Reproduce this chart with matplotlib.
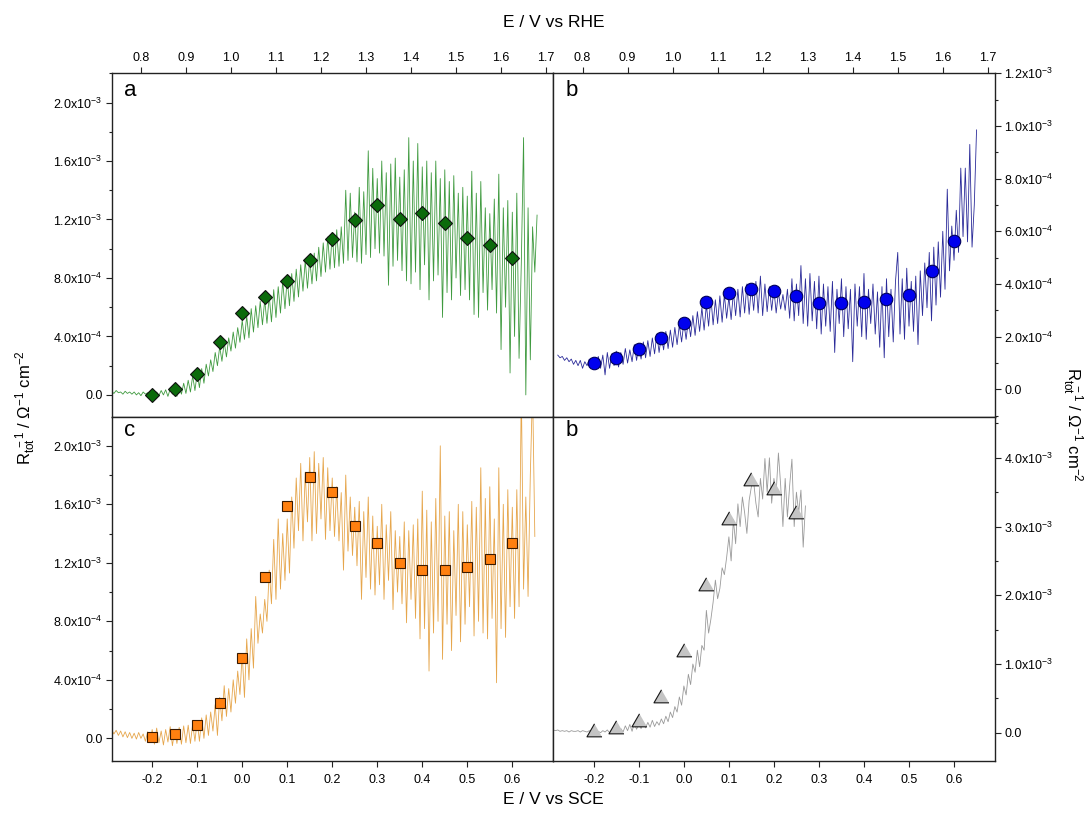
import numpy as np
import matplotlib
matplotlib.use("Agg")
import matplotlib.pyplot as plt
from matplotlib.ticker import MultipleLocator, FuncFormatter, NullLocator

plt.rcParams['font.family'] = ['Liberation Sans', 'DejaVu Sans']
plt.rcParams['mathtext.fontset'] = 'custom'
plt.rcParams['mathtext.rm'] = 'Liberation Sans'
plt.rcParams['mathtext.it'] = 'Liberation Sans:italic'
plt.rcParams['mathtext.bf'] = 'Liberation Sans:bold'

# ---------------- data ----------------
# marker potentials
mark_rhe = [0.825, 0.875, 0.925, 0.975, 1.025, 1.075, 1.125, 1.175, 1.225,
            1.275, 1.325, 1.375, 1.425, 1.475, 1.525, 1.575, 1.625]
mark_sce = [-0.20, -0.15, -0.10, -0.05, 0.00, 0.05, 0.10, 0.15, 0.20,
            0.25, 0.30, 0.35, 0.40, 0.45, 0.50, 0.55, 0.60]
mark_sce_d = [-0.20, -0.15, -0.10, -0.05, 0.00, 0.05, 0.10, 0.15, 0.20, 0.25]

# marker values (Ohm^-1 cm^-2)
a_marks = [0.0, 0.39e-4, 1.45e-4, 3.59e-4, 5.57e-4, 6.68e-4, 7.77e-4, 9.25e-4, 1.066e-3,
           1.198e-3, 1.302e-3, 1.20e-3, 1.243e-3, 1.173e-3, 1.073e-3, 1.023e-3, 0.939e-3]
b_marks = [0.99e-4, 1.18e-4, 1.52e-4, 1.94e-4, 2.53e-4, 3.30e-4, 3.65e-4, 3.80e-4, 3.73e-4,
           3.54e-4, 3.27e-4, 3.27e-4, 3.30e-4, 3.43e-4, 3.58e-4, 4.49e-4, 5.62e-4]
c_marks = [0.11e-4, 0.30e-4, 0.89e-4, 2.41e-4, 5.51e-4, 1.1025e-3, 1.59e-3, 1.786e-3, 1.686e-3,
           1.449e-3, 1.335e-3, 1.196e-3, 1.150e-3, 1.153e-3, 1.171e-3, 1.226e-3, 1.337e-3]
d_marks = [0.015e-3, 0.05e-3, 0.16e-3, 0.50e-3, 1.17e-3, 2.14e-3, 3.09e-3, 3.66e-3, 3.53e-3, 3.18e-3]

# continuous traces, sweep start / step in V
a_start, a_step = 0.735, 0.005   # vs RHE
a_trace_e4 = [
    0.25, 0.10, 0.30, 0.15, 0.20, 0.05, 0.25, 0.10, 0.20, 0.05,
    0.20, 0.00, 0.15, -0.05, 0.20, 0.05, 0.15, -0.05, 0.10, 0.00,
    0.20, -0.05, 0.30, 0.00, 0.35, -0.10, 0.40, 0.05, 0.55, -0.10,
    0.60, 0.05, 0.80, 0.10, 1.00, 0.20, 1.30, 0.30, 1.50, 0.50,
    1.80, 0.80, 2.10, 1.30, 2.40, 1.60, 2.90, 2.00, 3.30, 2.30,
    3.60, 2.60, 3.90, 3.00, 4.30, 3.20, 4.60, 3.60, 5.10, 3.80,
    5.40, 3.90, 5.90, 4.30, 6.10, 4.60, 6.40, 4.80, 6.50, 4.90,
    6.80, 5.00, 7.20, 5.30, 7.40, 5.60, 7.80, 5.90, 8.00, 6.10,
    8.30, 6.40, 8.60, 6.70, 8.90, 7.10, 9.20, 7.30, 9.30, 7.60,
    9.70, 7.80, 10.10, 8.10, 10.40, 8.40, 10.80, 8.60, 11.10, 8.70,
    11.30, 8.80, 11.50, 9.00, 14.00, 9.20, 13.80, 9.40, 12.50, 9.10,
    14.20, 9.00, 13.90, 9.60, 16.70, 9.40, 15.50, 10.00, 14.80, 9.70,
    16.00, 9.50, 15.20, 7.50, 15.80, 8.80, 16.20, 9.20, 14.90, 8.50,
    15.40, 7.80, 17.60, 7.60, 16.00, 8.40, 17.20, 7.20, 15.60, 8.90,
    16.00, 6.50, 15.20, 7.80, 16.00, 8.20, 14.80, 5.30, 15.40, 7.00,
    14.60, 6.50, 15.00, 8.00, 13.80, 6.80, 14.20, 7.20, 13.60, 6.50,
    15.30, 5.50, 13.80, 5.30, 14.60, 7.00, 12.80, 5.80, 12.40, 7.20,
    13.40, 5.60, 15.10, 3.10, 12.80, 6.00, 13.30, 1.50, 12.50, 4.00,
    13.80, 2.50, 9.00, 17.60, 0.00, 12.80, 2.40, 11.50, 8.40, 12.30,
]

b_start, b_step = 0.745, 0.005   # vs RHE
b_trace_e4 = [
    1.30, 1.20, 1.25, 1.10, 1.20, 1.05, 1.15, 0.95, 1.10, 0.90,
    1.10, 0.80, 1.05, 0.90, 1.15, 0.85, 1.10, 0.95, 1.25, 0.80,
    1.30, 0.55, 1.40, 0.80, 1.35, 0.90, 1.45, 0.85, 1.40, 0.95,
    1.55, 1.00, 1.50, 1.05, 1.70, 1.10, 1.65, 1.15, 1.80, 1.20,
    1.85, 1.25, 1.95, 1.35, 2.10, 1.40, 2.05, 1.50, 2.20, 1.55,
    2.25, 1.60, 2.35, 1.70, 2.45, 1.80, 2.55, 1.90, 2.65, 2.00,
    2.80, 2.05, 2.95, 2.20, 3.10, 2.25, 3.20, 2.40, 3.50, 2.45,
    3.40, 2.50, 3.55, 2.55, 3.60, 2.70, 3.50, 2.65, 3.70, 2.80,
    3.80, 2.75, 3.90, 2.90, 4.00, 2.85, 3.95, 3.00, 4.10, 2.90,
    4.30, 2.80, 4.00, 2.95, 3.90, 3.00, 3.80, 2.90, 3.70, 3.05,
    3.60, 3.00, 3.80, 2.70, 4.20, 2.60, 4.00, 2.80, 4.70, 2.50,
    4.20, 2.40, 4.40, 2.60, 4.10, 2.30, 4.30, 2.10, 4.00, 2.40,
    3.90, 2.20, 4.10, 1.40, 3.80, 2.50, 4.20, 2.00, 3.90, 2.30,
    3.80, 1.05, 4.00, 2.40, 3.90, 2.00, 4.40, 1.90, 3.80, 2.50,
    4.00, 2.10, 3.70, 1.60, 3.90, 1.20, 4.20, 2.00, 3.80, 1.80,
    4.10, 5.20, 2.10, 4.20, 1.90, 4.60, 2.40, 4.10, 2.20, 4.30,
    1.70, 4.50, 2.80, 4.80, 3.10, 5.20, 2.60, 5.40, 3.20, 5.60,
    3.50, 6.00, 3.80, 7.60, 4.50, 6.20, 4.90, 6.80, 5.20, 8.40,
    5.80, 8.40, 5.60, 9.30, 5.40, 7.00, 9.85,
]

c_start, c_step = -0.290, 0.005  # vs SCE
c_trace_e4 = [
    0.60, 0.30, 0.55, 0.20, 0.50, 0.10, 0.45, 0.05, 0.40, 0.00,
    0.35, -0.05, 0.40, 0.00, 0.30, -0.20, 0.45, -0.30, 0.60, -0.40,
    0.70, -0.30, 0.50, -0.45, 0.60, -0.25, 0.80, -0.50, 0.55, -0.35,
    0.75, -0.40, 0.85, -0.30, 0.90, -0.35, 1.00, -0.20, 1.20, -0.20,
    1.40, 0.00, 1.60, 0.20, 1.80, 0.50, 2.30, 0.20, 2.80, 1.20,
    3.60, 1.50, 3.40, 1.80, 4.00, 2.40, 4.60, 3.00, 5.80, 2.80,
    6.80, 4.00, 7.50, 4.80, 9.70, 6.50, 8.50, 7.20, 9.50, 8.00,
    11.50, 9.20, 13.60, 9.50, 15.00, 10.20, 14.00, 10.80, 15.00, 11.30,
    16.50, 13.00, 17.80, 14.20, 18.80, 13.50, 18.20, 14.80, 19.20, 13.50,
    19.60, 14.00, 18.80, 15.00, 19.20, 13.60, 18.50, 14.20, 17.80, 13.80,
    17.20, 13.50, 16.80, 11.50, 18.00, 12.80, 16.50, 12.50, 15.80, 11.80,
    16.20, 9.50, 15.50, 11.00, 16.50, 10.20, 15.20, 9.80, 14.50, 10.50,
    16.00, 9.50, 14.60, 10.80, 15.50, 8.80, 14.20, 10.00, 13.80, 9.20,
    14.80, 7.90, 14.20, 9.50, 14.60, 8.20, 15.00, 6.80, 16.90, 7.50,
    15.60, 4.60, 14.80, 7.20, 16.40, 8.00, 20.00, 5.40, 15.20, 7.80,
    15.50, 6.00, 14.20, 8.40, 16.00, 6.60, 15.50, 7.80, 14.60, 9.00,
    16.20, 7.00, 15.80, 8.00, 18.50, 7.20, 16.40, 6.80, 17.20, 8.20,
    15.00, 3.80, 18.50, 7.50, 16.00, 6.90, 17.00, 9.00, 15.80, 8.20,
    17.00, 9.00, 24.00, 10.20, 16.50, 9.70, 18.00, 24.00, 13.80,
]

d_start, d_step = -0.290, 0.005  # vs SCE
d_trace_e3 = [
    0.04, 0.03, 0.04, 0.02, 0.03, 0.02, 0.03, 0.01, 0.03, 0.02,
    0.02, 0.03, 0.01, 0.03, 0.02, 0.01, 0.03, 0.00, 0.02, 0.01,
    0.02, 0.00, 0.03, 0.01, 0.04, 0.00, 0.03, 0.01, 0.04, 0.00,
    0.06, 0.01, 0.10, 0.03, 0.12, 0.02, 0.14, 0.05, 0.12, 0.06,
    0.14, 0.07, 0.15, 0.08, 0.18, 0.09, 0.16, 0.11, 0.20, 0.13,
    0.24, 0.16, 0.30, 0.22, 0.38, 0.30, 0.52, 0.40, 0.68, 0.55,
    0.85, 0.70, 1.00, 0.88, 1.20, 0.96, 1.27, 1.20, 1.78, 1.45,
    1.65, 1.90, 2.22, 1.95, 2.10, 2.40, 2.30, 2.55, 2.85, 2.50,
    3.10, 2.75, 3.33, 3.00, 3.43, 3.20, 2.90, 3.38, 3.58, 3.65,
    3.34, 3.14, 3.70, 3.40, 3.99, 3.50, 4.00, 3.34, 3.70, 3.50,
    4.07, 3.60, 3.00, 3.70, 3.14, 3.60, 3.98, 3.00, 3.50, 3.20,
    3.53, 2.70, 3.30,
]

panel_labels = ['a', 'b', 'c', 'b']
top_title = 'E / V vs RHE'
bottom_title = 'E / V vs SCE'
y_title = r'R$_{\rm tot}^{\ -1}$ / $\Omega^{-1}$ cm$^{-2}$'

# ---------------- helpers ----------------
def sweep(start, step, n):
    return start + step * np.arange(n)

def sci_fmt(v, pos):
    if abs(v) < 1e-12:
        return '0.0'
    e = int(np.floor(np.log10(abs(v)) + 1e-9))
    m = v / 10.0 ** e
    return '%.1fx10$^{%d}$' % (m, e)

def x_fmt(v, pos):
    return '%.1f' % (round(v, 1) + 0.0)

TICK_FS = 9

def setup(ax, xside, yside, xlim, ylim, ymaj, ymin):
    ax.set_xlim(*xlim)
    ax.set_ylim(*ylim)
    ax.xaxis.set_major_locator(MultipleLocator(0.1))
    ax.xaxis.set_minor_locator(NullLocator())
    ax.xaxis.set_major_formatter(FuncFormatter(x_fmt))
    ax.yaxis.set_major_locator(MultipleLocator(ymaj))
    ax.yaxis.set_minor_locator(MultipleLocator(ymin))
    ax.yaxis.set_major_formatter(FuncFormatter(sci_fmt))
    top = xside == 'top'
    left = yside == 'left'
    ax.tick_params(axis='x', which='major', direction='out', top=top, bottom=not top,
                   labeltop=top, labelbottom=not top, length=4.5, width=0.8,
                   pad=2.5 if top else 4.5, labelsize=TICK_FS, color='#222222')
    ax.tick_params(axis='y', which='major', direction='out', left=left, right=not left,
                   labelleft=left, labelright=not left, length=4.5, width=0.8,
                   pad=2, labelsize=TICK_FS, color='#222222')
    ax.tick_params(axis='y', which='minor', direction='out', left=left, right=not left,
                   length=2.5, width=0.8, color='#222222')
    for s in ax.spines.values():
        s.set_linewidth(1.0)
        s.set_color('#222222')

# ---------------- figure ----------------
fig = plt.figure(figsize=(10.84, 8.19), dpi=100)
L, M, R = 0.1030, 0.5104, 0.9179
B, MY, T = 0.0708, 0.4905, 0.9105
axa = fig.add_axes([L, MY, M - L, T - MY])
axb = fig.add_axes([M, MY, R - M, T - MY])
axc = fig.add_axes([L, B, M - L, MY - B])
axd = fig.add_axes([M, B, R - M, MY - B])

tri = [(0, 1), (-0.866, -0.5), (0.866, -0.5)]

# panel a
axa.plot(sweep(a_start, a_step, len(a_trace_e4)), np.array(a_trace_e4) * 1e-4,
         color='#3f9a3f', lw=0.6, zorder=2)
axa.plot(mark_rhe, a_marks, ls='none', marker='D', ms=7.0, mfc='#0b6b0b',
         mec='#101010', mew=0.8, zorder=3)
setup(axa, 'top', 'left', (0.735, 1.716), (-1.53e-4, 2.2e-3), 4e-4, 2e-4)

# panel b
axb.plot(sweep(b_start, b_step, len(b_trace_e4)), np.array(b_trace_e4) * 1e-4,
         color='#2b2b99', lw=0.6, zorder=2)
axb.plot(mark_rhe, b_marks, ls='none', marker='o', ms=9.0, mfc='#0000ee',
         mec='#00005a', mew=0.8, zorder=3)
setup(axb, 'top', 'right', (0.735, 1.716), (-1.06e-4, 1.2e-3), 2e-4, 1e-4)

# panel c
axc.plot(sweep(c_start, c_step, len(c_trace_e4)), np.array(c_trace_e4) * 1e-4,
         color='#e6a64c', lw=0.6, zorder=2)
axc.plot(mark_sce, c_marks, ls='none', marker='s', ms=7.8, mfc='#ff8010',
         mec='#3a1a00', mew=0.8, zorder=3)
setup(axc, 'bottom', 'left', (-0.29, 0.691), (-1.55e-4, 2.195e-3), 4e-4, 2e-4)

# panel d
axd.plot(sweep(d_start, d_step, len(d_trace_e3)), np.array(d_trace_e3) * 1e-3,
         color='#9a9a9a', lw=0.6, zorder=2)
axd.plot(mark_sce_d, d_marks, ls='none', marker=tri, ms=12.5, mfc='#c4c4c4',
         mec='#151515', mew=0.8, zorder=3)
setup(axd, 'bottom', 'right', (-0.29, 0.691), (-4.12e-4, 4.59e-3), 1e-3, 5e-4)

# panel letters
for ax, lab, yb in zip([axa, axb, axc, axd], panel_labels, [0.935, 0.935, 0.946, 0.946]):
    ax.text(0.028, yb, lab, transform=ax.transAxes, fontsize=16, va='baseline', ha='left')

fig.text(M, 0.9725, top_title, ha='center', va='center', fontsize=12.5)
fig.text(M, 0.0244, bottom_title, ha='center', va='center', fontsize=12.5)
fig.text(0.024, 0.502, y_title, rotation=90, ha='center', va='center', fontsize=12)
fig.text(0.989, 0.482, y_title, rotation=-90, ha='center', va='center', fontsize=12)

fig.savefig('out.png', dpi=100)
